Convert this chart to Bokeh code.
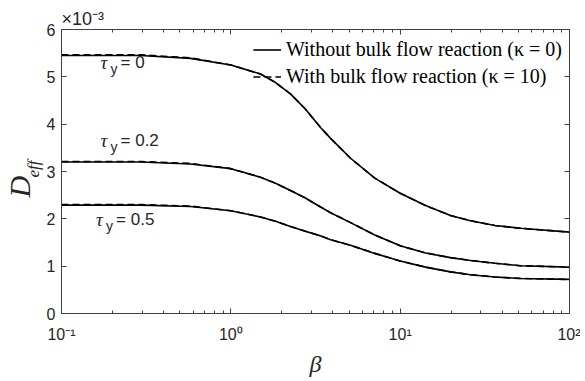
from bokeh.plotting import figure
from bokeh.models import (Range1d, LinearAxis, LogAxis, FixedTicker, Label,
                          Legend, LegendItem, Title)
from bokeh.embed import file_html
from bokeh.resources import INLINE

# ---- data ----
BETA = [0.1, 0.293, 0.578, 1.0, 1.496, 1.837, 2.249, 2.754, 3.388, 3.882,
        5.093, 7.079, 10.0, 14.13, 19.82, 26.0, 36.31, 51.4, 100.0]

# Without bulk flow reaction (kappa = 0)
TAU0_K0 = [5.45, 5.45, 5.39, 5.25, 5.06, 4.88, 4.64, 4.32, 3.93, 3.70,
           3.28, 2.86, 2.54, 2.28, 2.07, 1.96, 1.86, 1.80, 1.72]
TAU02_K0 = [3.20, 3.20, 3.16, 3.06, 2.88, 2.75, 2.60, 2.44, 2.25, 2.13,
            1.92, 1.66, 1.43, 1.28, 1.18, 1.12, 1.06, 1.01, 0.98]
TAU05_K0 = [2.29, 2.29, 2.26, 2.17, 2.04, 1.95, 1.84, 1.74, 1.64, 1.56,
            1.44, 1.27, 1.11, 0.98, 0.88, 0.82, 0.77, 0.74, 0.72]

# With bulk flow reaction (kappa = 10)
TAU0_K10 = [5.465, 5.465, 5.40, 5.25, 5.06, 4.88, 4.64, 4.32, 3.93, 3.70,
            3.28, 2.86, 2.54, 2.28, 2.07, 1.96, 1.86, 1.80, 1.72]
TAU02_K10 = [3.21, 3.21, 3.17, 3.06, 2.88, 2.75, 2.60, 2.44, 2.25, 2.13,
             1.92, 1.66, 1.43, 1.28, 1.18, 1.12, 1.06, 1.01, 0.98]
TAU05_K10 = [2.30, 2.30, 2.27, 2.17, 2.04, 1.95, 1.84, 1.74, 1.64, 1.56,
             1.44, 1.27, 1.11, 0.98, 0.88, 0.82, 0.77, 0.74, 0.72]

TAU_VALUES = ["0", "0.2", "0.5"]
TAU_LABEL_X = [0.17, 0.17, 0.16]
TAU_LABEL_Y = [5.30, 3.65, 1.98]

X_TICKS = [0.1, 1, 10, 100]
X_TICK_LABELS = ["10\u207b\u00b9", "10\u2070", "10\u00b9", "10\u00b2"]
X_MINOR = [0.2, 0.3, 0.4, 0.5, 0.6, 0.7, 0.8, 0.9,
           2, 3, 4, 5, 6, 7, 8, 9, 20, 30, 40, 50, 60, 70, 80, 90]
Y_TICKS = [0, 1, 2, 3, 4, 5, 6]

LEG_K0 = "Without bulk flow reaction (\u03ba = 0)"
LEG_K10 = "With bulk flow reaction (\u03ba = 10)"

AX = "#404040"
TXT = "#262626"
SANS = "Liberation Sans"
SERIF = "Liberation Serif"

p = figure(width=580, height=380, x_axis_type="log",
           x_range=Range1d(0.1, 100), y_range=Range1d(0, 6),
           output_backend="svg", toolbar_location=None,
           min_border_left=61, min_border_top=29, min_border_right=11,
           min_border_bottom=67)
p.grid.visible = False
p.outline_line_color = AX
p.outline_line_width = 1
p.background_fill_color = "white"
p.border_fill_color = "white"

def style_axis(ax, ticks, minor=True, labels=True):
    ax.axis_line_color = AX
    ax.major_tick_line_color = AX
    ax.major_tick_in = 5
    ax.major_tick_out = 0
    if minor:
        ax.minor_tick_line_color = AX
        ax.minor_tick_in = 3
        ax.minor_tick_out = 0
    else:
        ax.minor_tick_line_color = None
    ax.major_label_text_font = SANS
    ax.major_label_text_font_size = "16px"
    ax.major_label_text_color = TXT
    if not labels:
        ax.major_label_overrides = {t: "" for t in ticks}
        ax.major_label_text_color = None
        ax.major_label_standoff = 0

xt = FixedTicker(ticks=X_TICKS, minor_ticks=X_MINOR)
yt = FixedTicker(ticks=Y_TICKS, minor_ticks=[])

p.xaxis.ticker = xt
style_axis(p.xaxis[0], X_TICKS)
p.xaxis.major_label_overrides = {t: l for t, l in zip(X_TICKS, X_TICK_LABELS)}
p.xaxis.major_label_standoff = 12
p.xaxis.axis_label = "\u03b2"
p.xaxis.axis_label_text_font = SERIF
p.xaxis.axis_label_text_font_style = "italic"
p.xaxis.axis_label_text_font_size = "24px"
p.xaxis.axis_label_text_color = TXT
p.xaxis.axis_label_standoff = 5

p.yaxis.ticker = yt
style_axis(p.yaxis[0], Y_TICKS, minor=False)
p.yaxis.major_label_standoff = 6

top = LogAxis(ticker=FixedTicker(ticks=X_TICKS, minor_ticks=X_MINOR))
style_axis(top, X_TICKS, labels=False)
p.add_layout(top, "above")
right = LinearAxis(ticker=FixedTicker(ticks=Y_TICKS, minor_ticks=[]))
style_axis(right, Y_TICKS, minor=False, labels=False)
p.add_layout(right, "right")

# y label D_eff : subscript first (closest to the axis), then the D
p.add_layout(Title(text="eff", align="left", offset=136, standoff=0,
                   vertical_align="middle",
                   text_font=SERIF, text_font_style="italic",
                   text_font_size="17px", text_color=TXT), "left")
p.add_layout(Title(text="D", align="left", offset=116, standoff=-28,
                   vertical_align="middle",
                   text_font=SERIF, text_font_style="italic",
                   text_font_size="30px", text_color=TXT), "left")

# exponent label above the frame
p.add_layout(Title(text="\u00d710\u207b\u00b3", align="left", standoff=2,
                   text_font=SANS, text_font_style="normal",
                   text_font_size="18px", text_color=TXT), "above")

# curves
solid = []
dashed = []
for ys in (TAU0_K0, TAU02_K0, TAU05_K0):
    solid.append(p.line(BETA, ys, line_color="black", line_width=1.6))
for ys in (TAU0_K10, TAU02_K10, TAU05_K10):
    dashed.append(p.line(BETA, ys, line_color="black", line_width=1.6,
                         line_dash="7 4"))

legend = Legend(items=[LegendItem(label=LEG_K0, renderers=[solid[0]]),
                       LegendItem(label=LEG_K10, renderers=[dashed[0]])],
                location="top_right")
legend.label_text_font = SERIF
legend.label_text_font_size = "20px"
legend.label_text_color = "black"
legend.border_line_color = None
legend.background_fill_alpha = 0
legend.glyph_width = 28
legend.glyph_height = 27
legend.label_height = 27
legend.label_standoff = 5
legend.spacing = 0
legend.padding = 6
legend.margin = 7
p.add_layout(legend)

# tau labels
for v, lx, ly in zip(TAU_VALUES, TAU_LABEL_X, TAU_LABEL_Y):
    p.add_layout(Label(x=lx, y=ly, text="\u03c4", text_font=SERIF,
                       text_font_style="italic", text_font_size="19px",
                       text_color=TXT, text_baseline="middle"))
    p.add_layout(Label(x=lx, y=ly, text="y", x_offset=10, y_offset=-6,
                       text_font=SANS, text_font_size="14px",
                       text_color=TXT, text_baseline="middle"))
    p.add_layout(Label(x=lx, y=ly, text="= " + v, x_offset=20,
                       text_font=SANS, text_font_size="17px",
                       text_color=TXT, text_baseline="middle"))

open("out.html", "w").write(file_html(p, INLINE))
